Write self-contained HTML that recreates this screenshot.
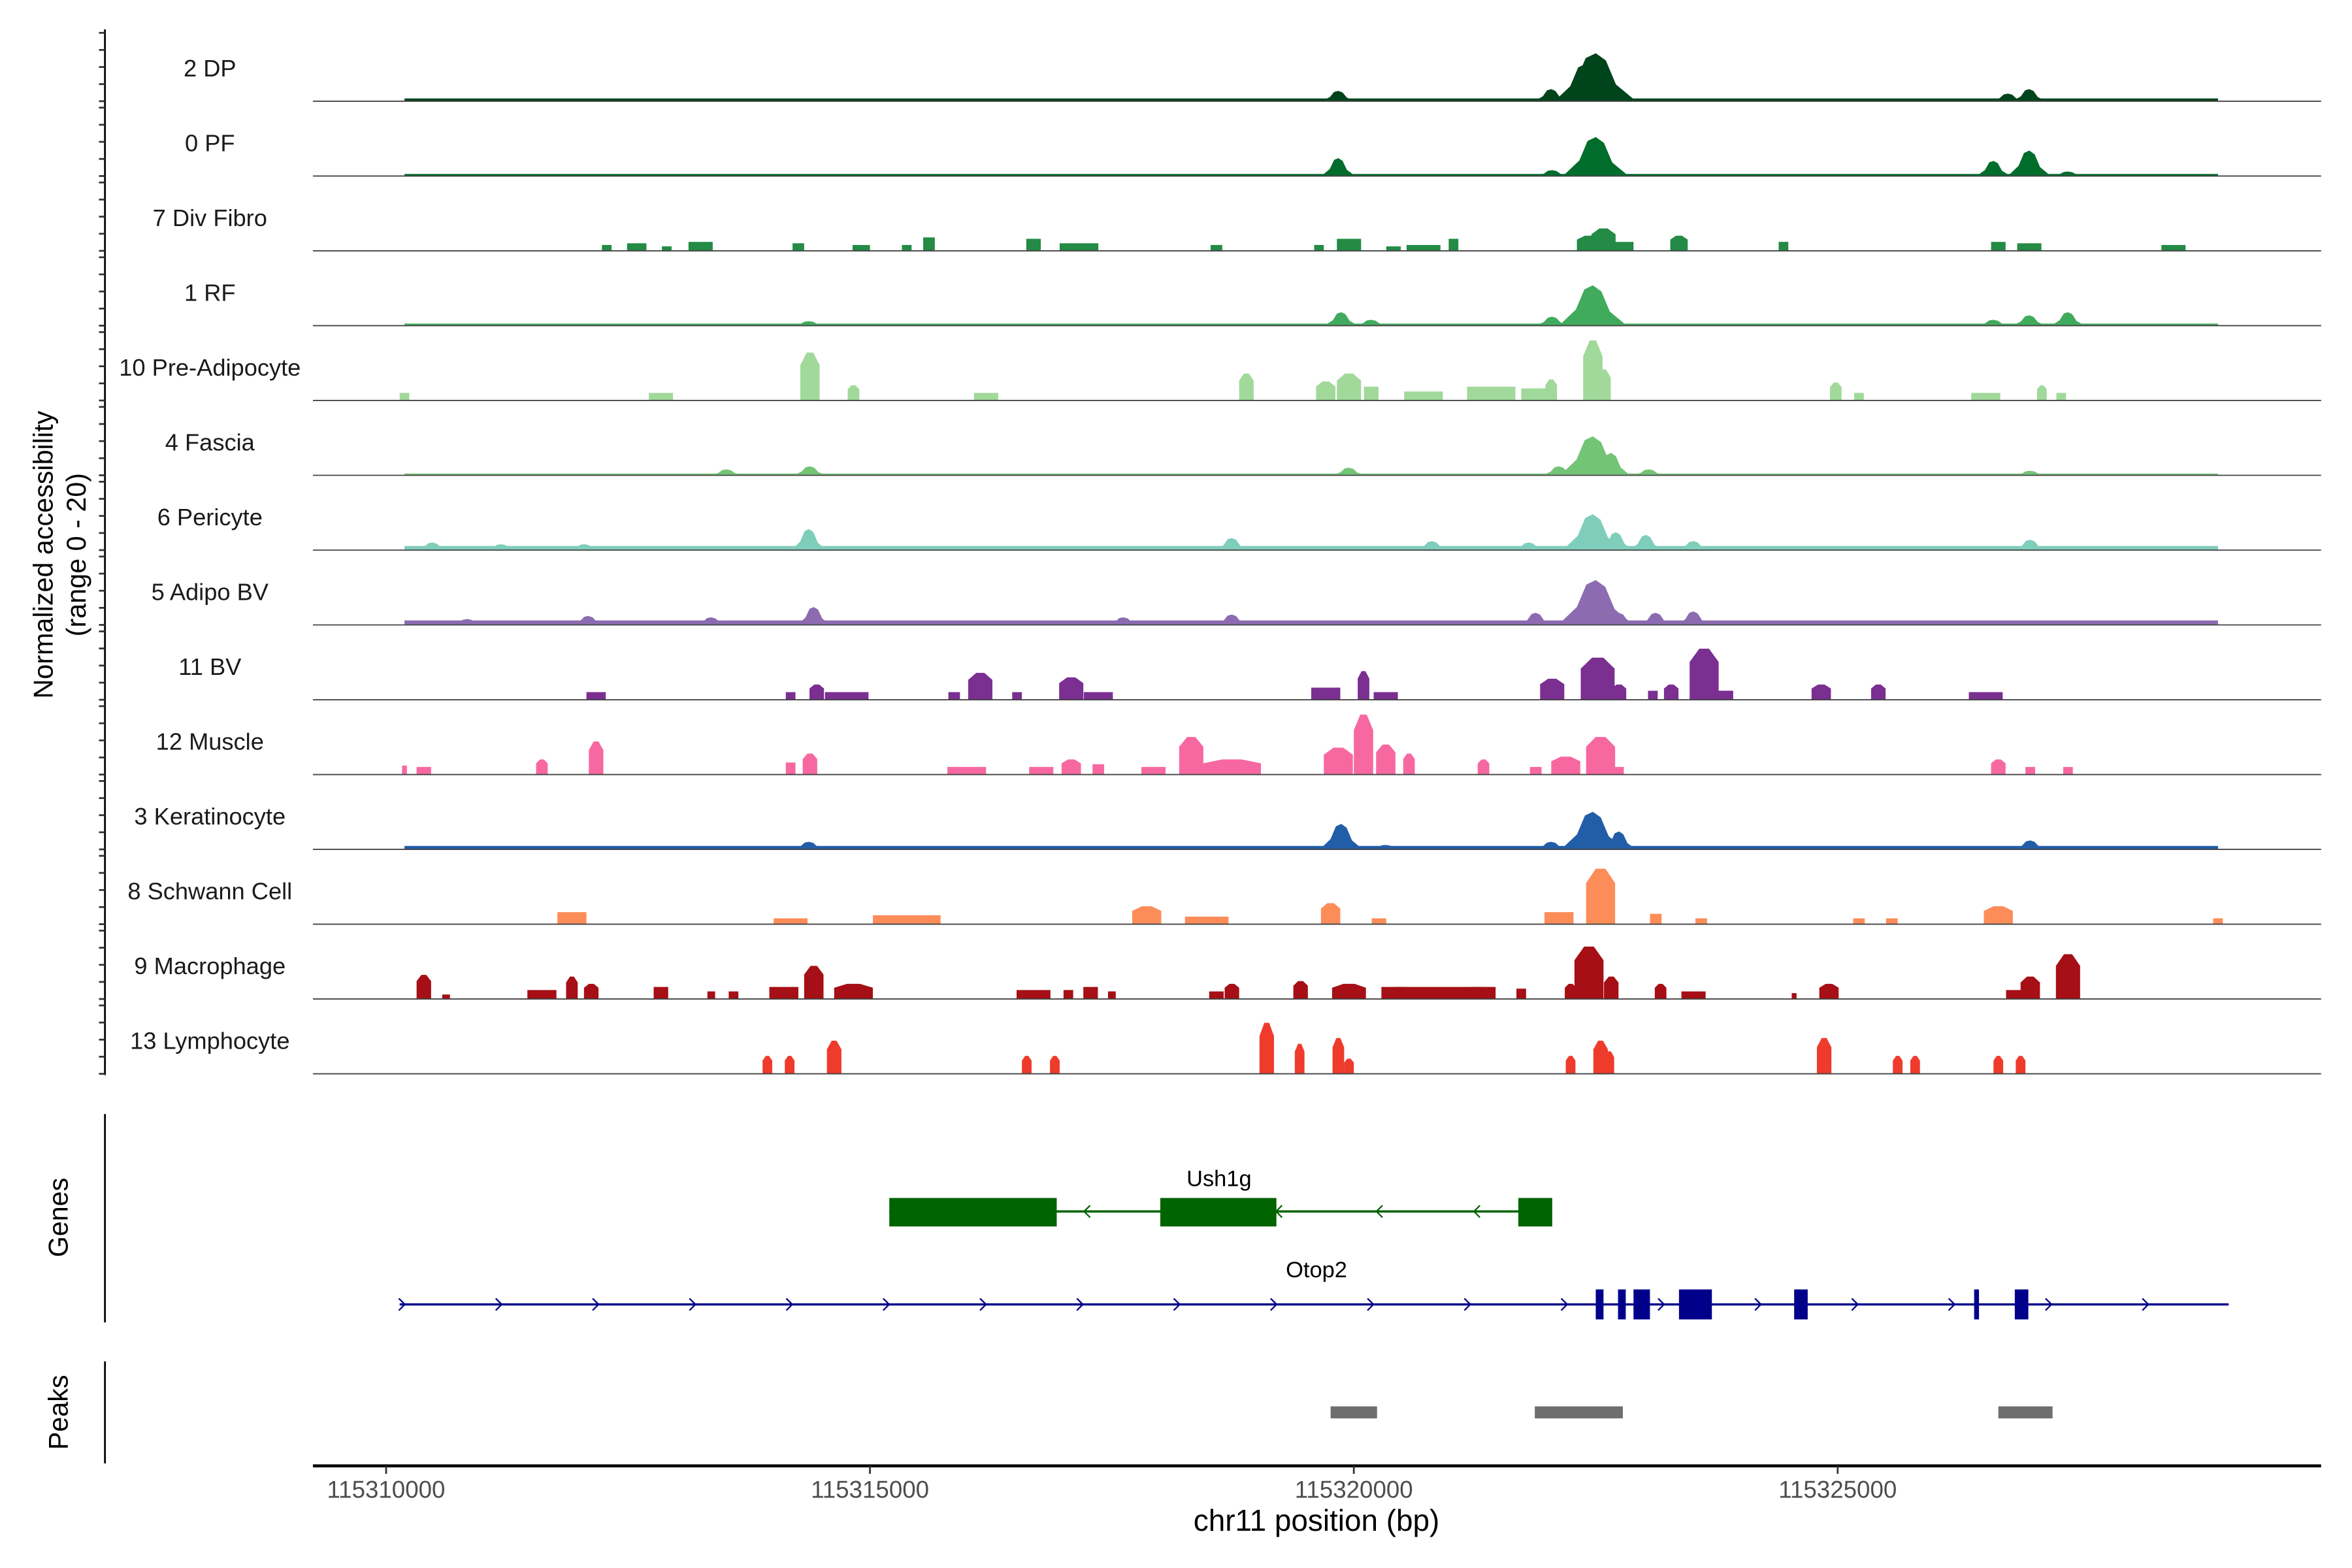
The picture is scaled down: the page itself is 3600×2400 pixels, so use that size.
<!DOCTYPE html>
<html><head><meta charset="utf-8">
<style>
html,body{margin:0;padding:0;background:#fff;}
svg{display:block;}
text{font-family:"Liberation Sans",sans-serif;}
</style></head>
<body>
<svg id="chart" xmlns="http://www.w3.org/2000/svg" width="3600" height="2400" viewBox="0 0 1568.6 1045.8" preserveAspectRatio="none">
<g id="tracks"></g>
<g id="genes"></g>
<g id="peaks"></g>
<g id="axes"></g>
</svg>
<script>
// ---- data (positions in kb from 115310000, values in normalized accessibility 0-20) ----
const trackNames = ["2 DP","0 PF","7 Div Fibro","1 RF","10 Pre-Adipocyte","4 Fascia","6 Pericyte","5 Adipo BV","11 BV","12 Muscle","3 Keratinocyte","8 Schwann Cell","9 Macrophage","13 Lymphocyte"];
const trackColors = ["#00441b","#006d2c","#238b45","#41ab5d","#a1d99b","#74c476","#7fcdbb","#8c6bb1","#7a2f91","#f768a1","#225ea8","#fc8d59","#a50f15","#ef3b2c"];
const trackStyle = ["peak","peak","bar","peak","bar","peak","peak","peak","bar","bar","peak","bar","bar","bar"];
const trackNoise = [0.8,0.6,0,0.6,0,0.5,1.2,1.3,0,0,1.0,0,0,0];

const pos0 = [9.84,12.04,12.40,12.50,16.76,16.98];
const val0 = [3.0,3.5,10.9,13.9,2.2,3.5];
const pos1 = [9.84,12.05,12.50,16.61,16.98,17.38];
const val1 = [5.2,1.7,11.3,4.4,7.4,1.3];
const pos2 = [2.28,2.59,2.90,3.25,4.26,4.91,5.38,5.61,6.69,7.16,8.58,9.64,9.95,10.41,10.72,11.03,12.43,12.58,12.74,13.36,14.44,16.66,16.98,18.47];
const val2 = [1.7,2.2,1.3,2.6,2.2,1.7,1.7,3.9,3.5,2.2,1.7,1.7,3.5,1.3,1.7,3.5,4.4,6.5,2.6,4.4,2.6,2.6,2.2,1.7];
const wid2 = [0.1,0.2,0.1,0.25,0.12,0.18,0.1,0.12,0.15,0.4,0.12,0.1,0.25,0.15,0.35,0.1,0.25,0.25,0.3,0.18,0.1,0.15,0.25,0.25];
const pos3 = [4.37,9.87,10.18,12.05,12.47,16.61,16.98,17.38];
const val3 = [1.3,3.9,1.7,2.6,11.7,1.7,3.0,3.9];
const pos4 = [0.19,2.84,4.38,4.83,6.20,8.89,9.71,9.95,10.18,10.72,11.42,11.88,12.04,12.47,12.58,14.98,15.22,16.53,17.11,17.31];
const val4 = [2.2,2.2,13.9,4.4,2.2,7.8,5.5,7.8,4.0,2.6,4.0,3.5,6.1,17.4,9.0,5.2,2.2,2.2,4.4,2.2];
const wid4 = [0.1,0.25,0.2,0.12,0.25,0.15,0.2,0.25,0.15,0.4,0.5,0.3,0.12,0.2,0.15,0.12,0.1,0.3,0.1,0.1];
const pos5 = [3.52,4.38,9.95,12.12,12.47,12.66,13.05,16.99];
const val5 = [1.7,2.6,2.2,2.6,11.3,6.5,1.7,1.3];
const pos6 = [0.48,1.19,2.05,4.37,8.74,10.81,11.81,12.47,12.71,13.02,13.51,16.99];
const val6 = [2.2,1.7,1.7,6.1,3.5,2.6,2.2,10.4,5.2,4.4,2.6,3.0];
const pos7 = [0.84,2.09,3.36,4.42,7.62,8.74,11.88,12.50,12.74,13.12,13.51];
const val7 = [1.7,2.6,2.2,5.2,2.2,3.0,3.5,13.0,3.5,3.5,3.9];
const pos8 = [2.17,4.18,4.45,4.76,5.87,6.14,6.52,7.08,7.36,9.71,10.10,10.33,12.05,12.52,12.74,13.09,13.28,13.62,13.82,14.83,15.42,16.53];
const val8 = [2.2,2.2,4.4,2.2,2.2,7.8,2.2,6.5,2.2,3.5,8.3,2.2,6.1,12.2,4.4,2.6,4.4,14.8,2.6,4.4,4.4,2.2];
const wid8 = [0.2,0.1,0.15,0.45,0.12,0.25,0.1,0.25,0.3,0.3,0.12,0.25,0.25,0.35,0.15,0.1,0.15,0.3,0.2,0.2,0.15,0.35];
const pos9 = [0.19,0.39,1.61,2.17,4.18,4.38,6.00,6.77,7.08,7.36,7.93,8.32,8.74,9.84,10.10,10.33,10.57,11.34,11.88,12.19,12.55,12.74,16.66,16.99,17.38];
const val9 = [2.6,2.2,4.4,9.6,3.5,6.1,2.2,2.2,4.4,3.0,2.2,10.9,4.4,7.8,17.4,8.7,6.1,4.4,2.2,5.2,10.9,2.2,4.4,2.2,2.2];
const wid9 = [0.05,0.15,0.12,0.15,0.1,0.15,0.4,0.25,0.2,0.12,0.25,0.25,0.6,0.3,0.2,0.2,0.12,0.12,0.12,0.3,0.3,0.1,0.15,0.1,0.1];
const pos10 = [4.37,9.87,10.33,12.04,12.47,12.74,16.99];
const val10 = [2.2,7.4,1.3,2.2,10.9,5.2,2.6];
const pos11 = [1.92,4.18,5.38,7.86,8.48,9.76,10.26,12.12,12.55,13.12,13.59,15.22,15.56,16.66,18.93];
const val11 = [3.5,1.7,2.6,5.2,2.2,6.1,1.7,3.5,16.1,3.0,1.7,1.7,1.7,5.2,1.7];
const wid11 = [0.3,0.35,0.7,0.3,0.45,0.2,0.15,0.3,0.3,0.12,0.12,0.12,0.12,0.3,0.1];
const pos12 = [0.39,0.62,1.61,1.92,2.12,2.84,3.36,3.59,4.11,4.42,4.83,6.69,7.05,7.28,7.50,8.58,8.74,9.45,9.95,10.41,10.88,11.34,11.73,12.24,12.43,12.66,13.17,13.51,14.55,14.91,16.89,16.99,17.38];
const val12 = [7.0,1.3,2.6,6.5,4.4,3.5,2.2,2.2,3.5,9.6,4.4,2.6,2.6,3.5,2.2,2.2,4.4,5.2,4.4,3.5,3.5,3.5,3.0,4.4,15.2,6.5,4.4,2.2,1.7,4.4,2.6,6.5,13.0];
const wid12 = [0.15,0.08,0.3,0.12,0.15,0.15,0.08,0.1,0.3,0.2,0.4,0.35,0.1,0.15,0.08,0.15,0.15,0.15,0.35,0.25,0.9,0.25,0.1,0.12,0.3,0.15,0.12,0.25,0.05,0.2,0.3,0.2,0.25];
const pos13 = [3.94,4.17,4.63,6.62,6.91,9.10,9.44,9.84,9.95,12.24,12.55,12.64,14.86,15.62,15.80,16.66,16.89];
const val13 = [5.2,5.2,9.6,5.2,5.2,14.8,8.7,10.4,4.4,5.2,9.6,6.5,10.4,5.2,5.2,5.2,5.2];
const wid13 = [0.1,0.1,0.15,0.1,0.1,0.15,0.1,0.12,0.1,0.1,0.15,0.1,0.15,0.1,0.1,0.1,0.1];
const trackPos = [pos0,pos1,pos2,pos3,pos4,pos5,pos6,pos7,pos8,pos9,pos10,pos11,pos12,pos13];
const trackVal = [val0,val1,val2,val3,val4,val5,val6,val7,val8,val9,val10,val11,val12,val13];
const trackWid = [null,null,wid2,null,wid4,null,null,null,wid8,wid9,null,wid11,wid12,wid13];

const xTicks = [115310000,115315000,115320000,115325000];
const ushExons = [[5.2,6.93],[8.0,9.2],[11.7,12.05]];
const ushRange = [5.2,12.05];
const otopExons = [[12.5,12.58],[12.73,12.81],[12.89,13.06],[13.36,13.7],[14.55,14.69],[16.41,16.46],[16.83,16.97]];
const otopRange = [0.14,19.04];
const peakRegions = [[9.76,10.24],[11.87,12.78],[16.66,17.22]];

// ---- scales ----
const NS="http://www.w3.org/2000/svg";
const X0=257.5, PXKB=64.54;
function xk(kb){return X0+kb*PXKB;}
function xbp(bp){return xk((bp-115310000)/1000);}
const TRACK0=67.5, TRACKSTEP=49.9, YUNIT=46/20;
function yv(b,v){return b-v*YUNIT;}
function mk(tag,attrs,parent){const e=document.createElementNS(NS,tag);for(const k in attrs)e.setAttribute(k,attrs[k]);parent.appendChild(e);return e;}

const tracks=document.getElementById('tracks');
const axes=document.getElementById('axes');

// left axis
let ax=mk('line',{x1:70,y1:19.6,x2:70,y2:717,stroke:'#000','stroke-width':1.2},axes);


for(let i=0;i<14;i++){
  const b=TRACK0+i*TRACKSTEP;
  for(let k=0;k<5;k++){
    const t=mk('line',{x1:66,x2:70,y1:b-k*11.4,y2:b-k*11.4,stroke:'#333','stroke-width':1.2},axes);
    
    
  }
}
const yt=mk('text',{x:0,y:0,'font-size':18,'text-anchor':'middle',transform:'translate(35,370) rotate(-90)'},axes);
yt.textContent='Normalized accessibility';


const yt2=mk('text',{x:0,y:0,'font-size':18,'text-anchor':'middle',transform:'translate(57,370) rotate(-90)'},axes);
yt2.textContent='(range 0 - 20)';



for(let i=0;i<14;i++){
  const b=TRACK0+i*TRACKSTEP;
  const g=mk('g',{},tracks);
  
  
  const lab=mk('text',{x:140,y:b-16.5,'font-size':15.8,'text-anchor':'middle',fill:'#1a1a1a'},g);
  lab.textContent=trackNames[i];
  
  
  const col=trackColors[i];
  if(trackNoise[i]>0){
    const n=mk('rect',{x:xk(0.19),y:yv(b,trackNoise[i]),width:xk(18.93)-xk(0.19),height:trackNoise[i]*YUNIT,fill:col},g);
    
    
  }
  const P=trackPos[i],V=trackVal[i],W=trackWid[i];
  for(let j=0;j<P.length;j++){
    const x=xk(P[j]);
    let el;
    if(trackStyle[i]==='bar'){
      const w=W[j]*PXKB;
      const y=yv(b,V[j]);
      el=mk('polygon',{points:`${x-w/2},${b} ${x-w/2},${y+ (V[j]>4?V[j]*0.6:0)} ${x-w/6},${y} ${x+w/6},${y} ${x+w/2},${y+(V[j]>4?V[j]*0.6:0)} ${x+w/2},${b}`,fill:col},g);
    } else {
      const w=Math.max(0.35,V[j]*0.06)*PXKB;
      el=mk('polygon',{points:`${x-w/2},${b} ${x-w/4},${yv(b,V[j]*0.4)} ${x-w/8},${yv(b,V[j]*0.9)} ${x},${yv(b,V[j])} ${x+w/8},${yv(b,V[j]*0.85)} ${x+w/4},${yv(b,V[j]*0.35)} ${x+w/2},${b}`,fill:col},g);
    }
    
    
  }
  const bl=mk('line',{x1:208.7,x2:1548,y1:b,y2:b,stroke:'#444','stroke-width':0.8},g);
  
  
}

// genes panel
const genes=document.getElementById('genes');
let gl=mk('line',{x1:70,y1:743,x2:70,y2:882,stroke:'#000','stroke-width':1.2},genes);


let gt=mk('text',{x:0,y:0,'font-size':18,'text-anchor':'middle',transform:'translate(45,812) rotate(-90)'},genes);
gt.textContent='Genes';


// Ush1g
const ug=mk('g',{},genes);


mk('line',{x1:xk(ushRange[0]),x2:xk(ushRange[1]),y1:808,y2:808,stroke:'#006400','stroke-width':1.5},ug);
for(const e of ushExons){mk('rect',{x:xk(e[0]),y:799,width:xk(e[1])-xk(e[0]),height:19,fill:'#006400'},ug);}
for(const xa of [723,851,918,983]){mk('polyline',{points:`${xa+4},${804} ${xa},${808} ${xa+4},${812}`,fill:'none',stroke:'#006400','stroke-width':1},ug);}
let ul=mk('text',{x:813,y:791,'font-size':15,'text-anchor':'middle'},ug);
ul.textContent='Ush1g';


// Otop2
const og=mk('g',{},genes);


mk('line',{x1:xk(otopRange[0]),x2:xk(otopRange[1]),y1:870,y2:870,stroke:'#00008b','stroke-width':1.5},og);
for(const e of otopExons){mk('rect',{x:xk(e[0]),y:860,width:xk(e[1])-xk(e[0]),height:20,fill:'#00008b'},og);}
for(let xa=267;xa<1490;xa+=64.6){mk('polyline',{points:`${xa-1},${866} ${xa+3},${870} ${xa-1},${874}`,fill:'none',stroke:'#00008b','stroke-width':1},og);}
let ol=mk('text',{x:878,y:852,'font-size':15,'text-anchor':'middle'},og);
ol.textContent='Otop2';



// peaks panel
const peaks=document.getElementById('peaks');
let pl=mk('line',{x1:70,y1:908,x2:70,y2:976,stroke:'#000','stroke-width':1.2},peaks);


let pt=mk('text',{x:0,y:0,'font-size':18,'text-anchor':'middle',transform:'translate(45,942) rotate(-90)'},peaks);
pt.textContent='Peaks';


for(const r of peakRegions){
  const pr=mk('rect',{x:xk(r[0]),y:938,width:xk(r[1])-xk(r[0]),height:8,fill:'#6e6e6e'},peaks);
  
  
}

// x axis
let xl=mk('line',{x1:208.7,x2:1548,y1:977.7,y2:977.7,stroke:'#000','stroke-width':2},axes);


for(const t of xTicks){
  const x=xbp(t);
  const tk=mk('line',{x1:x,x2:x,y1:977.7,y2:983,stroke:'#333','stroke-width':1.2},axes);
  
  
  const tl=mk('text',{x:x,y:999,'font-size':16,'text-anchor':'middle',fill:'#4d4d4d'},axes);
  tl.textContent=String(t);
  
  
}
let xt=mk('text',{x:878,y:1021,'font-size':20,'text-anchor':'middle'},axes);
xt.textContent='chr11 position (bp)';


</script>
</body></html>
